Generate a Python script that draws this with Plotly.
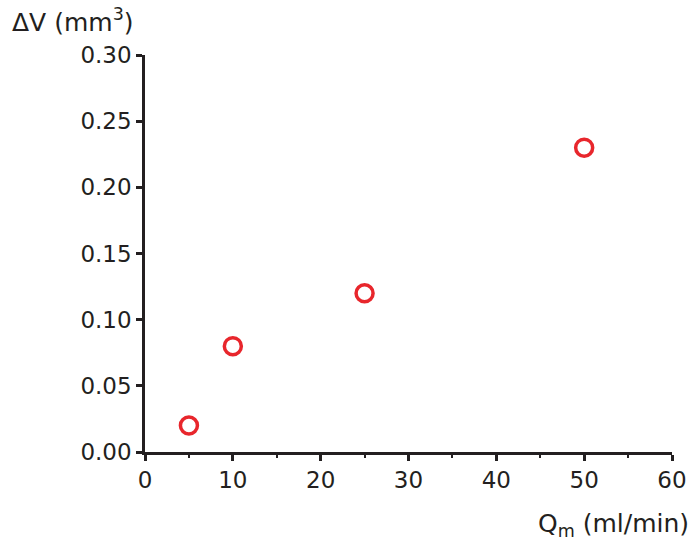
import plotly.graph_objects as go

flow_rate = [5, 10, 25, 50]
delta_v = [0.02, 0.08, 0.12, 0.23]
x_ticks = [0, 10, 20, 30, 40, 50, 60]
y_ticks = [0.00, 0.05, 0.10, 0.15, 0.20, 0.25, 0.30]

axis_color = "#231f20"
font_family = "DejaVu Sans, Liberation Sans, Arial, sans-serif"

fig = go.Figure(go.Scatter(
    x=flow_rate, y=delta_v, mode="markers",
    marker=dict(symbol="circle-open", size=17, color="#e8262c", line=dict(width=3.5, color="#e8262c")),
    showlegend=False,
))

fig.update_layout(
    template="none",
    width=692, height=547,
    margin=dict(l=145, r=20, t=55, b=95),
    paper_bgcolor="white", plot_bgcolor="white",
    font=dict(family=font_family, size=23, color=axis_color),
    xaxis=dict(
        range=[0, 60], tickvals=x_ticks, ticktext=[str(v) for v in x_ticks],
        showgrid=False, zeroline=False, showline=True, linecolor=axis_color, linewidth=2.5,
        ticks="outside", ticklen=6, tickwidth=2.5, tickcolor=axis_color,
        minor=dict(dtick=5, ticks="outside", ticklen=3, tickwidth=2, tickcolor=axis_color, showgrid=False),
        tickfont=dict(size=23), fixedrange=True, ticklabeloverflow="allow", automargin=False,
    ),
    yaxis=dict(
        range=[0, 0.30], tickvals=y_ticks, ticktext=[f"{v:.2f}" for v in y_ticks],
        showgrid=False, zeroline=False, showline=True, linecolor=axis_color, linewidth=2.5,
        ticks="outside", ticklen=6, tickwidth=2.5, tickcolor=axis_color,
        tickfont=dict(size=23), fixedrange=True, ticklabeloverflow="allow", automargin=False,
    ),
    annotations=[
        dict(text="ΔV (mm<sup>3</sup>)", xref="paper", yref="paper", x=0, y=1,
             xanchor="left", yanchor="top", xshift=-135, yshift=53, showarrow=False,
             font=dict(size=25, color=axis_color)),
        dict(text="Q<sub>m</sub> (ml/min)", xref="paper", yref="paper", x=1, y=0,
             xanchor="right", yanchor="bottom", xshift=19, yshift=-91, showarrow=False,
             font=dict(size=25, color=axis_color)),
    ],
)

fig.write_html("out.html", config={"displayModeBar": False},
               post_script="document.body.style.margin='0';document.body.style.overflow='hidden';")
